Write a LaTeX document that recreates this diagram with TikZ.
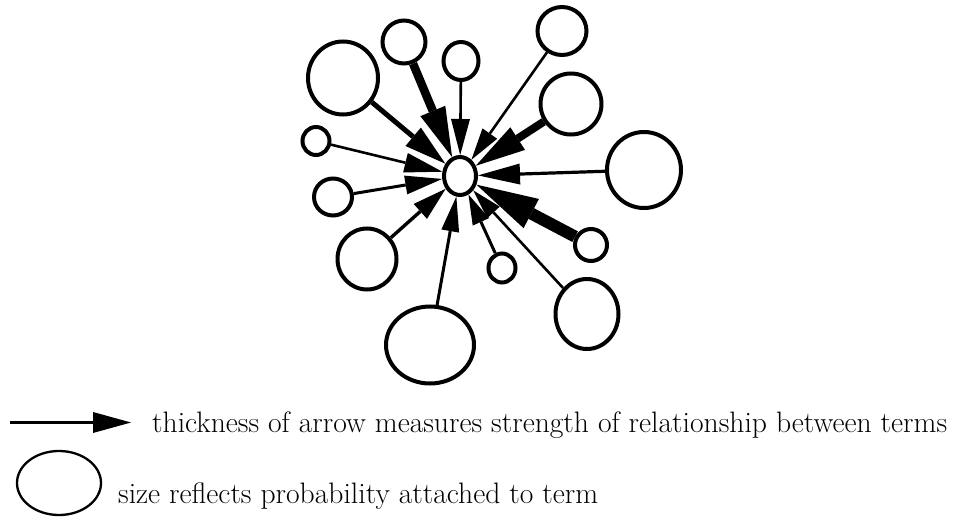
\documentclass[tikz,border=0pt]{standalone}
\usepackage{tikz}
\usetikzlibrary{shapes.geometric, positioning, arrows.meta}

\begin{document}
\begin{tikzpicture}[
        x=1pt, y=-1pt,
        % term circle, size given per node
        term/.style={
            draw,
            ellipse,
            line width=4pt,
            inner sep=0pt
        },
        % arrow: shaft width, head length, head width
        link/.style n args={3}{
            line width=#1pt,
            -{Triangle[length=#2pt, width=#3pt, line width=0pt]}
        },
        legendtext/.style={
            anchor=base west,
            inner sep=0pt,
            font=\fontsize{29.6}{32}\selectfont
        }
    ]
    \useasboundingbox (0,0) rectangle (954,519);

    % ==========================================
    % CENTRAL TERM
    % ==========================================
    \node[term, minimum width=32pt, minimum height=38pt] (query) at (460,176) {};

    % ==========================================
    % RELATED TERMS
    % ==========================================
    \node[term, minimum width=70pt, minimum height=73pt] (t1) at (343,78) {};
    \node[term, minimum width=43pt, minimum height=43pt] (t2) at (404,42) {};
    \node[term, minimum width=35pt, minimum height=38pt] (t3) at (461,61) {};
    \node[term, minimum width=49pt, minimum height=48pt] (t4) at (562,31) {};
    \node[term, minimum width=61pt, minimum height=61pt] (t5) at (571,104) {};
    \node[term, minimum width=74pt, minimum height=76pt] (t6) at (644,170) {};
    \node[term, minimum width=32pt, minimum height=32pt] (t7) at (591,245) {};
    \node[term, minimum width=63pt, minimum height=70pt] (t8) at (587,314) {};
    \node[term, minimum width=27pt, minimum height=29pt] (t9) at (502,268) {};
    \node[term, minimum width=88pt, minimum height=77pt] (t10) at (430,345) {};
    \node[term, minimum width=59pt, minimum height=61pt] (t11) at (367,259) {};
    \node[term, minimum width=38pt, minimum height=37pt] (t12) at (333,197) {};
    \node[term, minimum width=27pt, minimum height=28pt] (t13) at (316,141) {};

    % ==========================================
    % RELATIONSHIPS
    % ==========================================
    \draw[link={5}{42}{24}] (t1) -- (query);
    \draw[link={8.5}{50}{27}] (t2) -- (query);
    \draw[link={2.6}{36}{19}] (t3) -- (query);
    \draw[link={2.6}{32}{18}] (t4) -- (query);
    \draw[link={8}{50}{27}] (t5) -- (query);
    \draw[link={3.2}{42}{21}] (t6) -- (query);
    \draw[link={12}{62}{33}] (t7) -- (query);
    \draw[link={2.6}{30}{17}] (t8) -- (query);
    \draw[link={3}{30}{18}] (t9) -- (query);
    \draw[link={3}{35}{18}] (t10) -- (query);
    \draw[link={3.4}{34}{20}] (t11) -- (query);
    \draw[link={3}{37}{19}] (t12) -- (query);
    \draw[link={2.6}{38}{20}] (t13) -- (query);

    % ==========================================
    % LEGEND
    % ==========================================
    \coordinate (keystart) at (10,422.5);
    \coordinate (keyend) at (131,422.5);
    \draw[link={2.5}{38}{21}] (keystart) -- (keyend);
    \node[legendtext] (keyarrow) at (152,432)
        {thickness of arrow measures strength of relationship between terms};

    \node[term, line width=2.3pt, minimum width=84pt, minimum height=64pt] (keyterm) at (59,483) {};
    \node[legendtext] (keysize) at (118,503)
        {size reflects probability attached to term};

\end{tikzpicture}
\end{document}
